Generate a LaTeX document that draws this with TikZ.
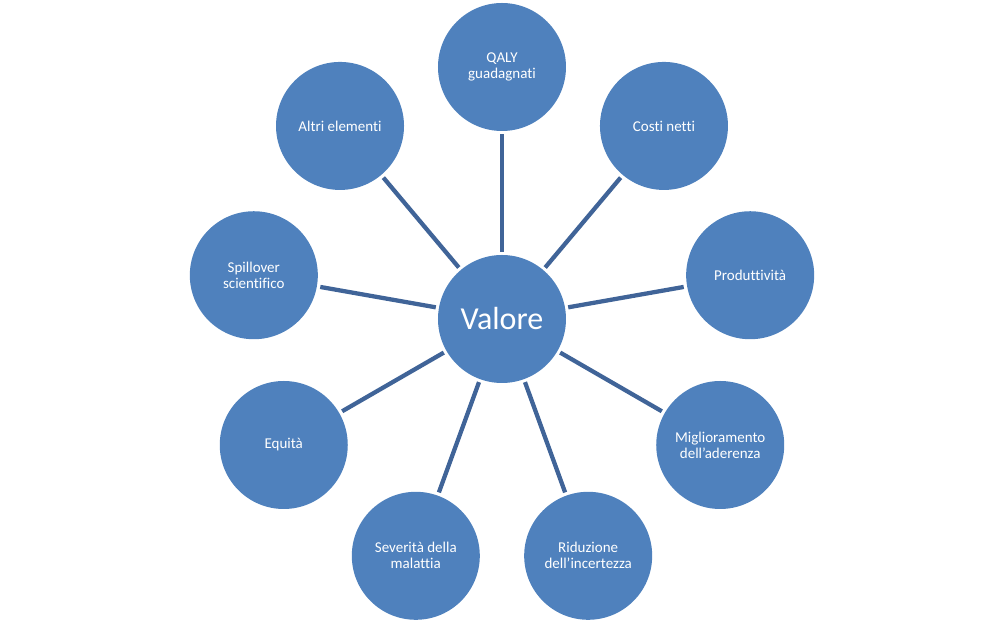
\documentclass[tikz,border=0pt]{standalone}
\usepackage{fontspec}
\setmainfont{Carlito}[Ligatures={NoCommon}]
\usepackage{tikz}
\usetikzlibrary{positioning}
\definecolor{discfill}{RGB}{79,129,189}
\definecolor{spokeline}{RGB}{64,100,152}

\begin{document}
\begin{tikzpicture}[x=0.75pt, y=0.75pt,
    disc/.style={circle, fill=discfill, draw=none, text=white, inner sep=0pt,
      minimum size=96pt, align=center, font=\fontsize{11.25}{12}\selectfont},
    spoke/.style={draw=spokeline, line width=3.2pt, shorten <=2.2pt, shorten >=2.4pt}]
  \useasboundingbox (-502,-304) rectangle (502,319);
  \node[disc, font=\fontsize{24}{28}\selectfont] (valore) at (0,0) {Valore};
  % outer circles, every 40 degrees
  \foreach \i/\txt in {0/{QALY\\guadagnati}, 1/{Costi netti}, 2/{Produttività},
      3/{Miglioramento\\dell’aderenza}, 4/{Riduzione\\dell’incertezza},
      5/{Severità della\\malattia}, 6/{Equità}, 7/{Spillover\\scientifico},
      8/{Altri elementi}}
    \node[disc] (elem\i) at ({90-40*\i}:252) {\txt};
  \foreach \i in {0,...,8}
    \draw[spoke] (valore) -- (elem\i);
\end{tikzpicture}
\end{document}
